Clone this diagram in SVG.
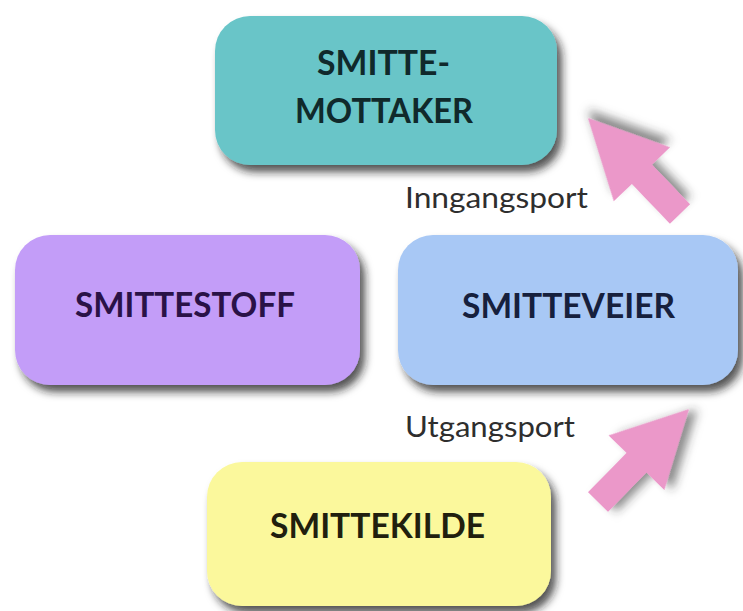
<svg xmlns="http://www.w3.org/2000/svg" width="743" height="611" viewBox="0 0 743 611">
  <defs>
    <filter id="shadow" x="-10%" y="-10%" width="125%" height="135%">
      <feDropShadow dx="5" dy="7" stdDeviation="4.5" flood-color="#1a1a1a" flood-opacity="0.75"/>
    </filter>
    <filter id="ashadow" x="-20%" y="-20%" width="150%" height="150%">
      <feDropShadow dx="6" dy="6" stdDeviation="5" flood-color="#333" flood-opacity="0.55"/>
    </filter>
  </defs>
  <style>
    .box { filter: url(#shadow); }
    .title { font-family: Lato, "Liberation Sans", sans-serif; font-weight: bold; font-size: 34px; }
    .port { font-family: Lato, "Liberation Sans", sans-serif; font-size: 28px; fill: #2e2e2e; }
    .arrow { fill: #eb98c9; filter: url(#ashadow); }
  </style>
  <rect width="743" height="611" fill="#ffffff"/>

  <g id="smittemottaker">
    <rect class="box" x="215" y="16" width="342" height="149" rx="35" fill="#69c5c8"/>
    <text class="title" x="317" y="75" textLength="133" lengthAdjust="spacingAndGlyphs" fill="#10292b">SMITTE-</text>
    <text class="title" x="295" y="123" textLength="178" lengthAdjust="spacingAndGlyphs" fill="#10292b">MOTTAKER</text>
  </g>

  <g id="smittestoff">
    <rect class="box" x="15" y="235" width="345" height="150" rx="35" fill="#c39df8"/>
    <text class="title" x="75" y="317" textLength="220" lengthAdjust="spacingAndGlyphs" fill="#2a1247">SMITTESTOFF</text>
  </g>

  <g id="smitteveier">
    <rect class="box" x="398" y="235" width="340" height="150" rx="35" fill="#a8c8f5"/>
    <text class="title" x="462" y="318" textLength="213" lengthAdjust="spacingAndGlyphs" fill="#16203d">SMITTEVEIER</text>
  </g>

  <g id="smittekilde">
    <rect class="box" x="207" y="462" width="344" height="144" rx="35" fill="#fbf89c"/>
    <text class="title" x="270" y="538" textLength="215" lengthAdjust="spacingAndGlyphs" fill="#211f0e">SMITTEKILDE</text>
  </g>

  <g id="connectors">
    <polygon class="arrow" points="0,-14 55,-14 55,-39 133,0 55,39 55,14 0,14" transform="translate(680,214) rotate(-133.8)"/>
    <polygon class="arrow" points="0,-14 55,-14 55,-39 130,0 55,39 55,14 0,14" transform="translate(598,502) rotate(-45.6)"/>
    <text class="port" x="405" y="208" textLength="183" lengthAdjust="spacingAndGlyphs">Inngangsport</text>
    <text class="port" x="405" y="437" textLength="170" lengthAdjust="spacingAndGlyphs">Utgangsport</text>
  </g>
</svg>
